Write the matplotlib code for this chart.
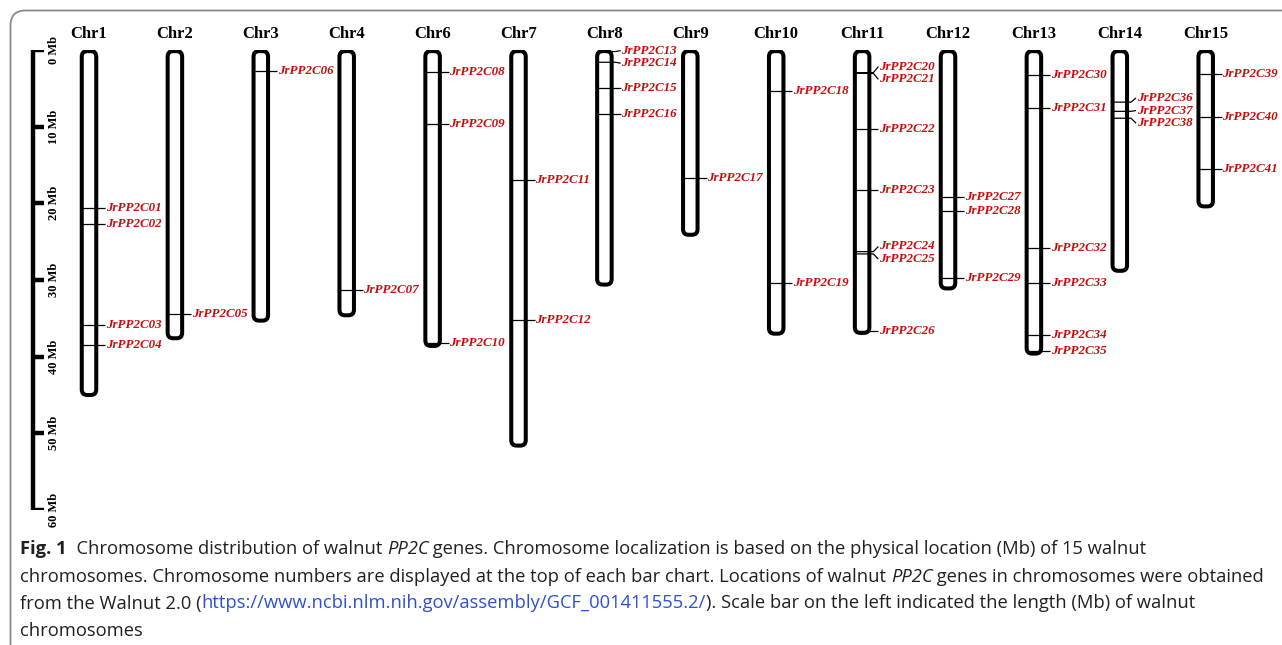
import matplotlib
matplotlib.use("Agg")
import matplotlib.pyplot as plt
from matplotlib.patches import FancyBboxPatch
from matplotlib.transforms import IdentityTransform

# ---------------- data ----------------
chromosomes = ['Chr1', 'Chr2', 'Chr3', 'Chr4', 'Chr6', 'Chr7', 'Chr8', 'Chr9',
               'Chr10', 'Chr11', 'Chr12', 'Chr13', 'Chr14', 'Chr15']
chrom_length_mb = [45.0, 37.6, 35.3, 34.6, 38.6, 51.6, 30.6, 24.1,
                   37.0, 36.9, 31.1, 39.6, 28.8, 20.4]

gene_names = ['JrPP2C%02d' % k for k in range(1, 42)]
gene_chrom = (['Chr1'] * 4 + ['Chr2'] + ['Chr3'] + ['Chr4'] + ['Chr6'] * 3 +
              ['Chr7'] * 2 + ['Chr8'] * 4 + ['Chr9'] + ['Chr10'] * 2 +
              ['Chr11'] * 7 + ['Chr12'] * 3 + ['Chr13'] * 6 + ['Chr14'] * 3 +
              ['Chr15'] * 3)
gene_pos_mb = [20.6, 22.7, 35.9, 38.5,          # Chr1
               34.4,                            # Chr2
               2.7,                             # Chr3
               31.3,                            # Chr4
               2.9, 9.6, 38.2,                  # Chr6
               16.9, 35.2,                      # Chr7
               0.2, 1.6, 5.0, 8.4,              # Chr8
               16.7,                            # Chr9
               5.3, 30.4,                       # Chr10
               2.95, 3.05, 10.3, 18.3, 26.3, 26.6, 36.6,   # Chr11
               19.2, 21.0, 29.7,                # Chr12
               3.3, 7.6, 25.8, 30.4, 37.2, 39.3,   # Chr13
               6.8, 8.0, 8.9,                   # Chr14
               3.1, 8.7, 15.5]                  # Chr15

scale_ticks_mb = [0, 10, 20, 30, 40, 50, 60]

caption_lines = [
    [("Fig. 1", "bold"), ("  Chromosome distribution of walnut ", "normal"), ("PP2C", "italic"),
     (" genes. Chromosome localization is based on the physical location (Mb) of 15 walnut", "normal")],
    [("chromosomes. Chromosome numbers are displayed at the top of each bar chart. Locations of walnut ", "normal"),
     ("PP2C", "italic"), (" genes in chromosomes were obtained", "normal")],
    [("from the Walnut 2.0 (", "normal"), ("https://www.ncbi.nlm.nih.gov/assembly/GCF_001411555.2/", "link"),
     ("). Scale bar on the left indicated the length (Mb) of walnut", "normal")],
    [("chromosomes", "normal")],
]

# ---------------- layout ----------------
W, H = 1282, 645
DPI = 100
SP = 85.9           # px between chromosomes
X0 = 89             # px of first chromosome
Y_TOP, Y_BOT = 50, 510   # px of 0 Mb and 60 Mb
PXMB = (Y_BOT - Y_TOP) / 60.0

fig = plt.figure(figsize=(W / DPI, H / DPI), dpi=DPI)
fig.patch.set_facecolor('white')
ax = fig.add_axes([0, (H - Y_BOT) / H, 1, (Y_BOT - Y_TOP) / H])
ax.set_xlim(-X0 / SP, (W - X0) / SP)
ax.set_ylim(60, 0)
ax.axis('off')

serif = ['Liberation Serif', 'DejaVu Serif']
RED = '#cc0a0a'

def px(n):
    return n / SP

def pmb(n):
    return n / PXMB

w = px(14.5)
r = px(5.5)
asp = SP / PXMB

for i, (name, L) in enumerate(zip(chromosomes, chrom_length_mb)):
    box = FancyBboxPatch((i - w / 2, 0.15), w, L - 0.15,
                         boxstyle="round,pad=0,rounding_size=%f" % r,
                         mutation_aspect=asp, fc='white', ec='black', lw=2.9, zorder=2)
    ax.add_patch(box)
    ax.text(i, pmb(-16), name, ha='center', va='center', fontsize=12,
            fontweight='bold', family=serif, color='black')

# genes with simple label de-overlap
GAP = 1.65
for i, name in enumerate(chromosomes):
    idx = [k for k in range(len(gene_names)) if gene_chrom[k] == name]
    idx.sort(key=lambda k: gene_pos_mb[k])
    pos = [gene_pos_mb[k] for k in idx]
    groups = []
    for k, p in zip(idx, pos):
        groups.append([[k], [p]])
        while len(groups) > 1:
            g1, g2 = groups[-2], groups[-1]
            c1 = sum(g1[1]) / len(g1[1]); n1 = len(g1[1])
            c2 = sum(g2[1]) / len(g2[1]); n2 = len(g2[1])
            top2 = c2 - (n2 - 1) * GAP / 2
            bot1 = c1 + (n1 - 1) * GAP / 2
            if top2 - bot1 < GAP:
                groups[-2] = [g1[0] + g2[0], g1[1] + g2[1]]
                groups.pop()
            else:
                break
    edge = i + w / 2
    for ks, ps in groups:
        c = sum(ps) / len(ps)
        n = len(ps)
        for j, (k, p) in enumerate(zip(ks, ps)):
            ly = c + (j - (n - 1) / 2) * GAP
            ax.plot([i - w / 2, edge + px(4), edge + px(9)], [p, p, ly],
                    color='black', lw=0.9, zorder=3, solid_capstyle='butt')
            ax.text(edge + px(9.5), ly, gene_names[k], ha='left', va='center',
                    fontsize=9.4, fontweight='bold', fontstyle='italic',
                    family=serif, color=RED, zorder=4)

# scale bar
sx = px(33 - X0)
ax.plot([sx, sx], [0, 60], color='black', lw=3.2, solid_capstyle='butt')
for t in scale_ticks_mb:
    ax.plot([sx - px(1.5), px(44 - X0)], [t, t], color='black', lw=3.2, solid_capstyle='butt')
    ax.text(px(54 - X0), t, '%d Mb' % t, rotation=90, ha='center', va='center',
            fontsize=9, fontweight='bold', family=serif, color='black')

# outer rounded border (pixel coordinates)
border = FancyBboxPatch((10.5, -40), 1320, H - 10.5 + 40,
                        boxstyle="round,pad=0,rounding_size=15",
                        transform=IdentityTransform(), fc='none', ec='#8a8a8a', lw=1.3)
fig.add_artist(border)

# caption
cap_font = ['Open Sans', 'Lato', 'DejaVu Sans']
styles = {
    'normal': dict(family=cap_font, color='#231f20'),
    'bold': dict(family=cap_font, color='#231f20', fontweight='bold'),
    'italic': dict(family=cap_font, color='#231f20', fontstyle='italic'),
    'link': dict(family=cap_font, color='#2c4fdc'),
}
renderer = fig.canvas.get_renderer()

def width_of(s, fs, st):
    t = fig.text(0, 0, '|' + s + '|', fontsize=fs, **styles[st])
    t2 = fig.text(0, 0, '||', fontsize=fs, **styles[st])
    wd = t.get_window_extent(renderer).width - t2.get_window_extent(renderer).width
    t.remove(); t2.remove()
    return wd

# fit caption size so the second line spans the reference width
target = 1262 - 20
w10 = sum(width_of(s, 10, st) for s, st in caption_lines[1])
cap_fs = 10 * target / w10

line_centers = [549, 576, 603, 630]
for line, yc in zip(caption_lines, line_centers):
    x = 20
    yb = H - (yc + 5.5)
    for s, st in line:
        fig.text(x, yb, s, transform=IdentityTransform(), fontsize=cap_fs,
                 ha='left', va='baseline', **styles[st])
        x += width_of(s, cap_fs, st)

fig.savefig('out.png', dpi=DPI, facecolor='white')
